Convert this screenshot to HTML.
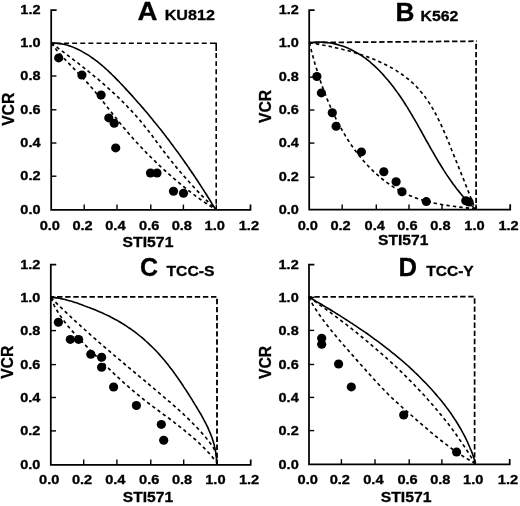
<!DOCTYPE html>
<html><head><meta charset="utf-8"><title>Figure</title>
<style>
html,body{margin:0;padding:0;background:#fff;}
svg{display:block}
text{font-family:"Liberation Sans", sans-serif;font-weight:bold;fill:#000;stroke:#000;stroke-width:0.3}
.ax{stroke:#000;stroke-width:1.75;fill:none;stroke-linecap:butt;stroke-linejoin:miter}
.tk{stroke:#000;stroke-width:1.4;fill:none}
.sol{stroke:#000;stroke-width:1.6;fill:none}
.box{stroke:#000;stroke-width:1.6;fill:none;stroke-dasharray:4.9 3.2;stroke-linejoin:round}
.dsh{stroke:#000;stroke-width:1.65;fill:none;stroke-dasharray:3.4 3.1}
.pt{fill:#000}
</style></head><body>
<svg width="520" height="506" viewBox="0 0 520 506">
<rect width="520" height="506" fill="#fff"/>
<g>
<path class="ax" d="M56.6,10.0 H51.2 V209.8 H250.5 V204.4"/>
<text transform="translate(40.5,214.0) scale(1.17,1)" font-size="12.4" text-anchor="end">0.0</text>
<text transform="translate(49.8,230.0) scale(1.18,1)" font-size="12.4" text-anchor="middle">0.0</text>
<path class="tk" d="M51.2,176.2 h5.2"/><path class="tk" d="M84.2,209.8 v-5.2"/>
<text transform="translate(40.5,180.0) scale(1.17,1)" font-size="12.4" text-anchor="end">0.2</text>
<text transform="translate(82.6,230.0) scale(1.18,1)" font-size="12.4" text-anchor="middle">0.2</text>
<path class="tk" d="M51.2,143.0 h5.2"/><path class="tk" d="M117.0,209.8 v-5.2"/>
<text transform="translate(40.5,147.0) scale(1.17,1)" font-size="12.4" text-anchor="end">0.4</text>
<text transform="translate(115.4,230.0) scale(1.18,1)" font-size="12.4" text-anchor="middle">0.4</text>
<path class="tk" d="M51.2,109.8 h5.2"/><path class="tk" d="M150.8,209.8 v-5.2"/>
<text transform="translate(40.5,114.0) scale(1.17,1)" font-size="12.4" text-anchor="end">0.6</text>
<text transform="translate(149.2,230.0) scale(1.18,1)" font-size="12.4" text-anchor="middle">0.6</text>
<path class="tk" d="M51.2,76.0 h5.2"/><path class="tk" d="M183.4,209.8 v-5.2"/>
<text transform="translate(40.5,80.0) scale(1.17,1)" font-size="12.4" text-anchor="end">0.8</text>
<text transform="translate(181.8,230.0) scale(1.18,1)" font-size="12.4" text-anchor="middle">0.8</text>
<path class="tk" d="M51.2,43.2 h5.2"/><path class="tk" d="M216.3,209.8 v-5.2"/>
<text transform="translate(40.5,47.0) scale(1.17,1)" font-size="12.4" text-anchor="end">1.0</text>
<text transform="translate(214.7,230.0) scale(1.18,1)" font-size="12.4" text-anchor="middle">1.0</text>
<text transform="translate(40.5,14.0) scale(1.17,1)" font-size="12.4" text-anchor="end">1.2</text>
<text transform="translate(248.9,230.0) scale(1.18,1)" font-size="12.4" text-anchor="middle">1.2</text>
<path class="box" stroke-dashoffset="3.3" d="M51.2,43.2 H210.0"/><path class="box" style="stroke-dasharray:none" d="M210.0,43.2 H216.2 V51.1"/><path class="box" stroke-dashoffset="-2" d="M216.2,51.1 V209.8"/>
<path class="dsh" d="M51.4,43.2 C51.9,43.6 53.5,44.8 54.6,45.5 C55.6,46.3 56.7,47.1 57.8,47.9 C58.8,48.7 59.9,49.4 60.9,50.2 C62.0,51.0 63.0,51.8 64.1,52.6 C65.2,53.4 66.2,54.2 67.3,55.0 C68.3,55.8 69.4,56.6 70.4,57.4 C71.5,58.2 72.6,59.0 73.6,59.8 C74.7,60.6 75.7,61.4 76.8,62.2 C77.8,63.0 78.9,63.8 79.9,64.6 C81.0,65.4 82.0,66.3 83.0,67.1 C84.1,67.9 85.1,68.7 86.2,69.6 C87.2,70.4 88.2,71.2 89.3,72.1 C90.3,72.9 91.3,73.7 92.4,74.6 C93.4,75.4 94.4,76.3 95.4,77.1 C96.5,78.0 97.5,78.8 98.5,79.7 C99.5,80.6 100.5,81.4 101.5,82.3 C102.5,83.1 103.5,84.0 104.5,84.9 C105.5,85.8 106.5,86.6 107.5,87.5 C108.5,88.4 109.5,89.3 110.5,90.2 C111.5,91.1 112.4,92.0 113.4,92.9 C114.4,93.8 115.4,94.7 116.3,95.6 C117.3,96.5 118.2,97.4 119.2,98.3 C120.1,99.3 121.1,100.2 122.0,101.1 C123.0,102.0 123.9,103.0 124.8,103.9 C125.8,104.9 126.7,105.8 127.6,106.8 C128.5,107.7 129.4,108.7 130.3,109.6 C131.2,110.6 132.1,111.6 133.0,112.5 C133.9,113.5 134.8,114.5 135.7,115.5 C136.6,116.5 137.4,117.5 138.3,118.4 C139.2,119.4 140.0,120.4 140.9,121.5 C141.7,122.5 142.5,123.5 143.4,124.5 C144.2,125.5 145.0,126.6 145.9,127.6 C146.7,128.6 147.5,129.7 148.3,130.7 C149.1,131.7 149.9,132.8 150.7,133.8 C151.5,134.9 152.3,136.0 153.1,137.0 C153.8,138.1 154.6,139.1 155.4,140.2 C156.2,141.2 157.0,142.3 157.8,143.4 C158.6,144.4 159.4,145.5 160.2,146.5 C160.9,147.6 161.7,148.6 162.5,149.7 C163.3,150.8 164.1,151.8 164.9,152.8 C165.8,153.9 166.6,154.9 167.4,156.0 C168.2,157.0 169.0,158.1 169.8,159.1 C170.6,160.1 171.5,161.2 172.3,162.2 C173.1,163.2 174.0,164.3 174.8,165.3 C175.6,166.3 176.5,167.3 177.3,168.4 C178.2,169.4 179.0,170.4 179.9,171.4 C180.7,172.4 181.6,173.4 182.5,174.4 C183.3,175.4 184.2,176.4 185.1,177.4 C185.9,178.4 186.8,179.4 187.7,180.4 C188.6,181.4 189.5,182.4 190.4,183.4 C191.3,184.4 192.1,185.3 193.0,186.3 C193.9,187.3 194.8,188.3 195.8,189.2 C196.7,190.2 197.6,191.2 198.5,192.1 C199.4,193.1 200.3,194.0 201.2,195.0 C202.2,195.9 203.1,196.9 204.0,197.8 C204.9,198.8 205.9,199.7 206.8,200.7 C207.7,201.6 208.7,202.5 209.6,203.5 C210.6,204.4 211.5,205.3 212.5,206.2 C213.4,207.2 214.8,208.5 215.3,209.0"/>
<path class="dsh" d="M51.4,43.2 C51.8,43.7 53.0,45.3 53.8,46.4 C54.6,47.4 55.4,48.5 56.2,49.5 C57.0,50.5 57.9,51.5 58.8,52.5 C59.6,53.6 60.5,54.5 61.4,55.5 C62.3,56.5 63.2,57.5 64.1,58.5 C65.0,59.4 65.9,60.4 66.8,61.3 C67.7,62.3 68.6,63.2 69.5,64.2 C70.5,65.1 71.4,66.1 72.3,67.0 C73.3,68.0 74.2,68.9 75.1,69.9 C76.0,70.8 77.0,71.8 77.9,72.7 C78.8,73.7 79.7,74.6 80.7,75.6 C81.6,76.5 82.5,77.5 83.4,78.5 C84.3,79.4 85.2,80.4 86.1,81.4 C87.0,82.4 87.9,83.3 88.7,84.3 C89.6,85.3 90.5,86.3 91.3,87.3 C92.2,88.3 93.1,89.4 93.9,90.4 C94.8,91.4 95.6,92.4 96.4,93.4 C97.3,94.4 98.1,95.5 99.0,96.5 C99.8,97.5 100.6,98.6 101.4,99.6 C102.3,100.6 103.1,101.7 103.9,102.7 C104.7,103.8 105.6,104.8 106.4,105.8 C107.2,106.9 108.0,107.9 108.8,109.0 C109.6,110.0 110.5,111.0 111.3,112.1 C112.1,113.1 112.9,114.2 113.7,115.2 C114.6,116.3 115.4,117.3 116.2,118.3 C117.0,119.4 117.9,120.4 118.7,121.4 C119.5,122.5 120.3,123.5 121.2,124.5 C122.0,125.5 122.9,126.6 123.7,127.6 C124.6,128.6 125.4,129.6 126.3,130.6 C127.1,131.6 128.0,132.6 128.8,133.6 C129.7,134.6 130.6,135.6 131.4,136.6 C132.3,137.6 133.2,138.6 134.1,139.6 C135.0,140.6 135.8,141.5 136.7,142.5 C137.6,143.5 138.5,144.5 139.4,145.4 C140.3,146.4 141.2,147.3 142.2,148.3 C143.1,149.3 144.0,150.2 144.9,151.2 C145.8,152.1 146.7,153.1 147.7,154.0 C148.6,154.9 149.5,155.9 150.5,156.8 C151.4,157.7 152.3,158.7 153.3,159.6 C154.2,160.5 155.2,161.4 156.1,162.3 C157.1,163.3 158.1,164.2 159.0,165.1 C160.0,166.0 161.0,166.9 161.9,167.8 C162.9,168.7 163.9,169.6 164.8,170.5 C165.8,171.3 166.8,172.2 167.8,173.1 C168.8,174.0 169.8,174.9 170.8,175.7 C171.8,176.6 172.8,177.5 173.8,178.4 C174.8,179.2 175.8,180.1 176.8,180.9 C177.8,181.8 178.8,182.7 179.8,183.5 C180.9,184.4 181.9,185.2 182.9,186.0 C183.9,186.9 185.0,187.7 186.0,188.5 C187.0,189.4 188.1,190.2 189.1,191.0 C190.2,191.8 191.2,192.6 192.3,193.4 C193.3,194.3 194.4,195.0 195.4,195.8 C196.5,196.6 197.6,197.4 198.7,198.2 C199.7,199.0 200.8,199.7 201.9,200.5 C203.0,201.2 204.1,202.0 205.2,202.7 C206.3,203.4 207.4,204.2 208.5,204.9 C209.6,205.6 210.8,206.3 211.9,207.0 C213.0,207.7 214.7,208.7 215.3,209.0"/>
<path class="sol" d="M51.4,43.2 C52.1,43.2 54.2,43.1 55.6,43.2 C56.9,43.2 58.3,43.4 59.6,43.6 C61.0,43.7 62.3,44.0 63.6,44.3 C64.9,44.6 66.2,44.9 67.5,45.3 C68.8,45.7 70.1,46.1 71.3,46.6 C72.6,47.1 73.8,47.6 75.0,48.1 C76.3,48.6 77.5,49.2 78.7,49.8 C79.9,50.3 81.1,50.9 82.2,51.6 C83.4,52.2 84.6,52.9 85.7,53.6 C86.8,54.3 88.0,55.0 89.1,55.7 C90.2,56.4 91.3,57.2 92.4,58.0 C93.5,58.7 94.6,59.5 95.7,60.4 C96.8,61.2 97.8,62.0 98.9,62.9 C99.9,63.7 101.0,64.6 102.0,65.4 C103.1,66.3 104.1,67.2 105.1,68.1 C106.1,69.0 107.1,70.0 108.1,70.9 C109.1,71.8 110.1,72.8 111.1,73.7 C112.1,74.7 113.1,75.7 114.1,76.6 C115.0,77.6 116.0,78.6 117.0,79.6 C117.9,80.6 118.9,81.5 119.8,82.5 C120.8,83.5 121.7,84.5 122.7,85.5 C123.6,86.5 124.6,87.6 125.5,88.6 C126.4,89.6 127.4,90.6 128.3,91.6 C129.2,92.6 130.1,93.6 131.1,94.6 C132.0,95.6 132.9,96.6 133.8,97.7 C134.7,98.7 135.6,99.7 136.5,100.7 C137.4,101.7 138.3,102.8 139.2,103.8 C140.1,104.8 141.0,105.8 141.9,106.9 C142.8,107.9 143.7,108.9 144.5,110.0 C145.4,111.0 146.3,112.0 147.2,113.1 C148.0,114.1 148.9,115.2 149.8,116.2 C150.6,117.2 151.5,118.3 152.4,119.3 C153.2,120.4 154.1,121.4 154.9,122.5 C155.8,123.5 156.6,124.6 157.5,125.6 C158.3,126.7 159.1,127.7 160.0,128.8 C160.8,129.8 161.7,130.9 162.5,132.0 C163.3,133.0 164.1,134.1 165.0,135.2 C165.8,136.2 166.6,137.3 167.4,138.4 C168.3,139.4 169.1,140.5 169.9,141.6 C170.7,142.7 171.5,143.7 172.3,144.8 C173.1,145.9 173.9,147.0 174.7,148.1 C175.5,149.2 176.3,150.2 177.1,151.3 C177.9,152.4 178.7,153.5 179.5,154.6 C180.3,155.7 181.0,156.8 181.8,157.9 C182.6,159.0 183.4,160.1 184.2,161.2 C184.9,162.3 185.7,163.4 186.5,164.5 C187.3,165.6 188.0,166.7 188.8,167.8 C189.6,169.0 190.3,170.1 191.1,171.2 C191.8,172.3 192.6,173.4 193.4,174.5 C194.1,175.7 194.9,176.8 195.6,177.9 C196.4,179.1 197.1,180.2 197.9,181.3 C198.6,182.4 199.3,183.6 200.1,184.7 C200.8,185.9 201.6,187.0 202.3,188.1 C203.0,189.3 203.8,190.4 204.5,191.6 C205.2,192.7 206.0,193.9 206.7,195.0 C207.4,196.2 208.1,197.3 208.9,198.5 C209.6,199.7 210.3,200.8 211.0,202.0 C211.7,203.1 212.4,204.3 213.2,205.5 C213.9,206.7 214.9,208.4 215.3,209.0"/>
<ellipse class="pt" cx="58.7" cy="57.9" rx="4.6" ry="4.5"/><ellipse class="pt" cx="81.9" cy="75" rx="4.6" ry="4.5"/><ellipse class="pt" cx="101.1" cy="95" rx="4.6" ry="4.5"/><ellipse class="pt" cx="108.8" cy="117.9" rx="4.6" ry="4.5"/><ellipse class="pt" cx="114.2" cy="123.2" rx="4.6" ry="4.5"/><ellipse class="pt" cx="115.7" cy="147.9" rx="4.6" ry="4.5"/><ellipse class="pt" cx="150.5" cy="173" rx="4.6" ry="4.5"/><ellipse class="pt" cx="157" cy="173" rx="4.6" ry="4.5"/><ellipse class="pt" cx="173.5" cy="191.3" rx="4.6" ry="4.5"/><ellipse class="pt" cx="183.5" cy="193.3" rx="4.6" ry="4.5"/>
<text transform="translate(137.6,20.0) scale(1.075,1)" font-size="25.7" text-anchor="start">A</text>
<text transform="translate(164.7,19.7) scale(1.09,1)" font-size="14.8" text-anchor="start">KU812</text>
<text transform="translate(148.0,246.5) scale(1.08,1)" font-size="14.6" text-anchor="middle">STI571</text>
<text transform="translate(13.7,109.3) rotate(-90) scale(1.045,1.11)" font-size="15" text-anchor="middle">VCR</text>
</g>
<g>
<path class="ax" d="M314.59999999999997,10.0 H309.2 V209.6 H510.2 V204.2"/>
<text transform="translate(298.9,214.0) scale(1.17,1)" font-size="12.4" text-anchor="end">0.0</text>
<text transform="translate(307.8,230.0) scale(1.18,1)" font-size="12.4" text-anchor="middle">0.0</text>
<path class="tk" d="M309.2,177.2 h5.2"/><path class="tk" d="M342.2,209.6 v-5.2"/>
<text transform="translate(298.9,181.0) scale(1.17,1)" font-size="12.4" text-anchor="end">0.2</text>
<text transform="translate(340.6,230.0) scale(1.18,1)" font-size="12.4" text-anchor="middle">0.2</text>
<path class="tk" d="M309.2,143.1 h5.2"/><path class="tk" d="M376.3,209.6 v-5.2"/>
<text transform="translate(298.9,147.0) scale(1.17,1)" font-size="12.4" text-anchor="end">0.4</text>
<text transform="translate(374.7,230.0) scale(1.18,1)" font-size="12.4" text-anchor="middle">0.4</text>
<path class="tk" d="M309.2,110.0 h5.2"/><path class="tk" d="M409.0,209.6 v-5.2"/>
<text transform="translate(298.9,114.0) scale(1.17,1)" font-size="12.4" text-anchor="end">0.6</text>
<text transform="translate(407.4,230.0) scale(1.18,1)" font-size="12.4" text-anchor="middle">0.6</text>
<path class="tk" d="M309.2,77.2 h5.2"/><path class="tk" d="M442.0,209.6 v-5.2"/>
<text transform="translate(298.9,81.0) scale(1.17,1)" font-size="12.4" text-anchor="end">0.8</text>
<text transform="translate(440.4,230.0) scale(1.18,1)" font-size="12.4" text-anchor="middle">0.8</text>
<path class="tk" d="M309.2,42.7 h5.2"/><path class="tk" d="M476.1,209.6 v-5.2"/>
<text transform="translate(298.9,47.0) scale(1.17,1)" font-size="12.4" text-anchor="end">1.0</text>
<text transform="translate(474.5,230.0) scale(1.18,1)" font-size="12.4" text-anchor="middle">1.0</text>
<text transform="translate(298.9,14.0) scale(1.17,1)" font-size="12.4" text-anchor="end">1.2</text>
<text transform="translate(508.6,230.0) scale(1.18,1)" font-size="12.4" text-anchor="middle">1.2</text>
<path class="box" style="stroke-width:1.75;stroke-dasharray:5.4 2.7" stroke-dashoffset="2.95" d="M309.2,42.6 L477.0,41.2"/><path class="box" style="stroke-width:1.75;stroke-dasharray:5.4 2.7" d="M476.1,43.8 V209.6"/>
<path class="dsh" d="M309.4,42.7 C310.1,42.8 312.1,43.2 313.5,43.4 C314.9,43.6 316.3,43.9 317.7,44.1 C319.1,44.4 320.4,44.6 321.8,44.9 C323.2,45.1 324.6,45.4 326.1,45.7 C327.5,46.0 328.9,46.2 330.3,46.5 C331.7,46.8 333.1,47.1 334.5,47.5 C335.9,47.8 337.4,48.1 338.8,48.4 C340.2,48.8 341.6,49.1 343.0,49.5 C344.4,49.8 345.9,50.2 347.3,50.5 C348.7,50.9 350.1,51.3 351.5,51.7 C352.9,52.1 354.3,52.5 355.7,52.9 C357.1,53.4 358.5,53.8 359.9,54.2 C361.3,54.7 362.7,55.2 364.0,55.6 C365.4,56.1 366.8,56.6 368.2,57.1 C369.5,57.6 370.9,58.1 372.2,58.7 C373.6,59.2 374.9,59.7 376.3,60.3 C377.6,60.9 378.9,61.5 380.2,62.1 C381.5,62.7 382.8,63.3 384.1,63.9 C385.4,64.5 386.7,65.2 387.9,65.8 C389.2,66.5 390.5,67.2 391.7,67.9 C392.9,68.6 394.2,69.3 395.4,70.0 C396.6,70.8 397.8,71.5 398.9,72.3 C400.1,73.1 401.3,73.9 402.4,74.7 C403.6,75.5 404.7,76.3 405.8,77.2 C406.9,78.1 408.0,78.9 409.1,79.8 C410.1,80.7 411.2,81.6 412.2,82.6 C413.3,83.5 414.3,84.5 415.3,85.5 C416.3,86.5 417.2,87.5 418.2,88.5 C419.1,89.5 420.0,90.6 420.9,91.7 C421.9,92.8 422.7,93.9 423.6,95.0 C424.5,96.1 425.3,97.2 426.1,98.4 C426.9,99.5 427.7,100.7 428.5,101.9 C429.3,103.1 430.1,104.3 430.8,105.5 C431.6,106.8 432.3,108.0 433.1,109.2 C433.8,110.5 434.5,111.8 435.2,113.0 C435.9,114.3 436.5,115.6 437.2,116.9 C437.9,118.2 438.5,119.5 439.2,120.8 C439.8,122.1 440.4,123.5 441.1,124.8 C441.7,126.1 442.3,127.5 442.9,128.8 C443.5,130.2 444.1,131.5 444.7,132.9 C445.3,134.2 445.8,135.6 446.4,136.9 C447.0,138.3 447.5,139.6 448.1,141.0 C448.7,142.4 449.2,143.7 449.8,145.1 C450.3,146.4 450.9,147.8 451.4,149.2 C451.9,150.5 452.5,151.9 453.0,153.2 C453.6,154.5 454.1,155.9 454.6,157.2 C455.2,158.6 455.7,159.9 456.2,161.2 C456.8,162.5 457.3,163.9 457.8,165.2 C458.4,166.5 458.9,167.8 459.4,169.1 C459.9,170.4 460.5,171.8 461.0,173.1 C461.5,174.4 462.1,175.7 462.6,177.0 C463.1,178.3 463.6,179.6 464.2,180.9 C464.7,182.3 465.2,183.6 465.7,184.9 C466.2,186.2 466.8,187.5 467.3,188.8 C467.8,190.2 468.3,191.5 468.9,192.8 C469.4,194.1 469.9,195.4 470.4,196.8 C470.9,198.1 471.5,199.4 472.0,200.8 C472.5,202.1 473.0,203.5 473.5,204.8 C474.1,206.2 474.8,208.2 475.1,208.9"/>
<path class="dsh" d="M309.4,42.7 C309.6,43.4 310.1,45.4 310.4,46.8 C310.7,48.1 311.1,49.5 311.4,50.8 C311.8,52.2 312.2,53.6 312.5,54.9 C312.9,56.3 313.3,57.7 313.7,59.1 C314.0,60.4 314.4,61.8 314.8,63.2 C315.2,64.6 315.6,66.0 316.1,67.3 C316.5,68.7 316.9,70.1 317.3,71.5 C317.8,72.9 318.2,74.3 318.6,75.7 C319.1,77.0 319.6,78.4 320.0,79.8 C320.5,81.2 321.0,82.6 321.4,83.9 C321.9,85.3 322.4,86.7 322.9,88.1 C323.4,89.5 323.9,90.8 324.5,92.2 C325.0,93.6 325.5,95.0 326.0,96.3 C326.6,97.7 327.1,99.1 327.7,100.4 C328.3,101.8 328.8,103.1 329.4,104.5 C330.0,105.8 330.6,107.2 331.2,108.5 C331.8,109.9 332.4,111.2 333.0,112.5 C333.6,113.9 334.3,115.2 334.9,116.5 C335.5,117.8 336.2,119.2 336.9,120.5 C337.5,121.8 338.2,123.1 338.9,124.4 C339.6,125.7 340.3,127.0 341.0,128.2 C341.7,129.5 342.4,130.8 343.2,132.1 C343.9,133.3 344.6,134.6 345.4,135.8 C346.1,137.1 346.9,138.3 347.7,139.5 C348.5,140.7 349.3,142.0 350.1,143.2 C350.9,144.4 351.7,145.6 352.5,146.8 C353.4,147.9 354.2,149.1 355.1,150.3 C355.9,151.4 356.8,152.6 357.7,153.7 C358.6,154.9 359.5,156.0 360.4,157.1 C361.3,158.2 362.2,159.3 363.2,160.4 C364.1,161.5 365.1,162.6 366.0,163.7 C367.0,164.7 368.0,165.8 369.0,166.8 C370.0,167.8 371.0,168.9 372.0,169.9 C373.0,170.9 374.1,171.9 375.1,172.8 C376.2,173.8 377.2,174.8 378.3,175.7 C379.4,176.6 380.5,177.6 381.6,178.5 C382.7,179.4 383.8,180.3 385.0,181.1 C386.1,182.0 387.3,182.9 388.5,183.7 C389.6,184.5 390.8,185.3 392.0,186.1 C393.2,186.9 394.4,187.7 395.7,188.4 C396.9,189.2 398.2,189.9 399.4,190.6 C400.7,191.3 402.0,191.9 403.3,192.6 C404.5,193.2 405.8,193.8 407.2,194.4 C408.5,195.0 409.8,195.6 411.1,196.1 C412.5,196.7 413.8,197.2 415.2,197.7 C416.6,198.2 417.9,198.7 419.3,199.1 C420.7,199.6 422.1,200.0 423.5,200.4 C424.9,200.8 426.3,201.2 427.7,201.5 C429.1,201.9 430.6,202.2 432.0,202.6 C433.4,202.9 434.8,203.2 436.3,203.5 C437.7,203.8 439.1,204.1 440.6,204.3 C442.0,204.6 443.5,204.8 444.9,205.1 C446.4,205.3 447.8,205.5 449.3,205.7 C450.7,205.9 452.2,206.1 453.6,206.3 C455.1,206.5 456.5,206.7 458.0,206.9 C459.4,207.1 460.9,207.2 462.3,207.4 C463.7,207.6 465.2,207.8 466.6,207.9 C468.0,208.1 469.4,208.2 470.9,208.4 C472.3,208.6 474.4,208.8 475.1,208.9"/>
<path class="sol" d="M309.4,42.6 C310.1,42.5 312.2,42.3 313.6,42.2 C315.0,42.1 316.4,42.0 317.8,42.0 C319.2,42.0 320.6,42.1 322.0,42.1 C323.4,42.2 324.9,42.3 326.3,42.5 C327.6,42.6 329.0,42.8 330.4,43.0 C331.8,43.3 333.2,43.5 334.5,43.9 C335.9,44.2 337.3,44.5 338.6,44.9 C340.0,45.3 341.3,45.7 342.6,46.1 C343.9,46.6 345.2,47.1 346.5,47.6 C347.8,48.1 349.0,48.7 350.3,49.3 C351.5,49.9 352.8,50.5 354.0,51.1 C355.2,51.8 356.4,52.5 357.6,53.2 C358.8,53.9 359.9,54.6 361.1,55.4 C362.2,56.1 363.4,56.9 364.5,57.7 C365.6,58.5 366.7,59.4 367.8,60.2 C368.9,61.1 370.0,62.0 371.0,62.9 C372.1,63.8 373.1,64.7 374.2,65.7 C375.2,66.6 376.2,67.6 377.2,68.5 C378.2,69.5 379.2,70.5 380.2,71.5 C381.1,72.5 382.1,73.5 383.1,74.6 C384.0,75.6 384.9,76.7 385.8,77.7 C386.8,78.8 387.7,79.9 388.6,80.9 C389.5,82.0 390.3,83.1 391.2,84.2 C392.1,85.3 392.9,86.4 393.8,87.5 C394.6,88.6 395.4,89.8 396.3,90.9 C397.1,92.0 397.9,93.2 398.7,94.3 C399.5,95.5 400.3,96.6 401.1,97.8 C401.8,98.9 402.6,100.1 403.4,101.2 C404.1,102.4 404.9,103.6 405.6,104.8 C406.4,105.9 407.1,107.1 407.9,108.3 C408.6,109.5 409.3,110.7 410.0,111.9 C410.7,113.1 411.5,114.3 412.2,115.5 C412.9,116.7 413.6,117.9 414.3,119.1 C415.0,120.3 415.7,121.5 416.4,122.7 C417.1,123.9 417.8,125.1 418.4,126.4 C419.1,127.6 419.8,128.8 420.5,130.0 C421.2,131.2 421.9,132.5 422.5,133.7 C423.2,134.9 423.9,136.1 424.6,137.3 C425.3,138.6 425.9,139.8 426.6,141.0 C427.3,142.2 428.0,143.4 428.7,144.7 C429.4,145.9 430.0,147.1 430.7,148.3 C431.4,149.5 432.1,150.7 432.8,151.9 C433.5,153.2 434.2,154.4 434.9,155.6 C435.6,156.8 436.3,158.0 437.0,159.2 C437.7,160.4 438.4,161.6 439.1,162.8 C439.9,164.0 440.6,165.1 441.3,166.3 C442.1,167.5 442.8,168.7 443.5,169.9 C444.3,171.0 445.0,172.2 445.8,173.4 C446.6,174.5 447.3,175.7 448.1,176.8 C448.9,178.0 449.7,179.1 450.5,180.3 C451.3,181.4 452.1,182.5 452.9,183.7 C453.7,184.8 454.6,185.9 455.4,187.0 C456.3,188.1 457.1,189.2 458.0,190.3 C458.8,191.4 459.7,192.5 460.6,193.5 C461.5,194.6 462.4,195.7 463.3,196.7 C464.3,197.8 465.2,198.8 466.1,199.9 C467.1,200.9 468.0,201.9 469.0,203.0 C470.0,204.0 471.0,205.0 472.0,206.0 C473.0,207.0 474.6,208.4 475.1,208.9"/>
<ellipse class="pt" cx="316.9" cy="76.5" rx="4.6" ry="4.5"/><ellipse class="pt" cx="321.4" cy="92.9" rx="4.6" ry="4.5"/><ellipse class="pt" cx="332.3" cy="112.8" rx="4.6" ry="4.5"/><ellipse class="pt" cx="336.1" cy="126.2" rx="4.6" ry="4.5"/><ellipse class="pt" cx="361.4" cy="151.9" rx="4.6" ry="4.5"/><ellipse class="pt" cx="383.8" cy="171.7" rx="4.6" ry="4.5"/><ellipse class="pt" cx="396.1" cy="181.7" rx="4.6" ry="4.5"/><ellipse class="pt" cx="402" cy="191.8" rx="4.6" ry="4.5"/><ellipse class="pt" cx="426.3" cy="201.6" rx="4.6" ry="4.5"/><ellipse class="pt" cx="465.8" cy="200.8" rx="4.6" ry="4.5"/><ellipse class="pt" cx="469" cy="202" rx="4.6" ry="4.5"/>
<text transform="translate(395.5,20.6) scale(1.035,1)" font-size="25.4" text-anchor="start">B</text>
<text transform="translate(420.6,20.6) scale(1.07,1)" font-size="14.8" text-anchor="start">K562</text>
<text transform="translate(403.2,245.3) scale(1.07,1)" font-size="14.6" text-anchor="middle">STI571</text>
<text transform="translate(271.2,106.4) rotate(-90) scale(1.045,1.08)" font-size="15" text-anchor="middle">VCR</text>
</g>
<g>
<path class="ax" d="M56.199999999999996,264.5 H50.8 V464.8 H250.7 V459.40000000000003"/>
<text transform="translate(40.4,469.0) scale(1.17,1)" font-size="12.4" text-anchor="end">0.0</text>
<text transform="translate(49.2,484.0) scale(1.18,1)" font-size="12.4" text-anchor="middle">0.0</text>
<path class="tk" d="M50.8,430.9 h5.2"/><path class="tk" d="M83.7,464.8 v-5.2"/>
<text transform="translate(40.4,435.0) scale(1.17,1)" font-size="12.4" text-anchor="end">0.2</text>
<text transform="translate(82.1,484.0) scale(1.18,1)" font-size="12.4" text-anchor="middle">0.2</text>
<path class="tk" d="M50.8,397.5 h5.2"/><path class="tk" d="M116.9,464.8 v-5.2"/>
<text transform="translate(40.4,402.0) scale(1.17,1)" font-size="12.4" text-anchor="end">0.4</text>
<text transform="translate(115.3,484.0) scale(1.18,1)" font-size="12.4" text-anchor="middle">0.4</text>
<path class="tk" d="M50.8,364.6 h5.2"/><path class="tk" d="M150.8,464.8 v-5.2"/>
<text transform="translate(40.4,369.0) scale(1.17,1)" font-size="12.4" text-anchor="end">0.6</text>
<text transform="translate(149.2,484.0) scale(1.18,1)" font-size="12.4" text-anchor="middle">0.6</text>
<path class="tk" d="M50.8,330.6 h5.2"/><path class="tk" d="M183.7,464.8 v-5.2"/>
<text transform="translate(40.4,335.0) scale(1.17,1)" font-size="12.4" text-anchor="end">0.8</text>
<text transform="translate(182.1,484.0) scale(1.18,1)" font-size="12.4" text-anchor="middle">0.8</text>
<path class="tk" d="M50.8,297.4 h5.2"/><path class="tk" d="M217.0,464.8 v-5.2"/>
<text transform="translate(40.4,302.0) scale(1.17,1)" font-size="12.4" text-anchor="end">1.0</text>
<text transform="translate(215.4,484.0) scale(1.18,1)" font-size="12.4" text-anchor="middle">1.0</text>
<text transform="translate(40.4,269.0) scale(1.17,1)" font-size="12.4" text-anchor="end">1.2</text>
<text transform="translate(249.1,484.0) scale(1.18,1)" font-size="12.4" text-anchor="middle">1.2</text>
<path class="box" style="stroke-width:1.85;stroke-dasharray:5.4 2.7" stroke-dashoffset="1.8" d="M50.8,296.9 L216.4,296.9"/><path class="box" style="stroke-width:1.85;stroke-dasharray:5.4 2.7" d="M217.0,298.8 V464.8"/>
<path class="dsh" d="M50.9,297.6 C51.4,298.1 52.8,299.5 53.7,300.4 C54.7,301.4 55.6,302.3 56.6,303.3 C57.5,304.2 58.5,305.1 59.4,306.1 C60.4,307.0 61.3,307.9 62.3,308.8 C63.2,309.8 64.2,310.7 65.2,311.6 C66.1,312.5 67.1,313.4 68.1,314.4 C69.0,315.3 70.0,316.2 71.0,317.1 C71.9,318.0 72.9,318.9 73.9,319.8 C74.9,320.7 75.8,321.6 76.8,322.5 C77.8,323.4 78.8,324.3 79.8,325.2 C80.8,326.1 81.7,327.0 82.7,327.9 C83.7,328.7 84.7,329.6 85.7,330.5 C86.7,331.4 87.7,332.3 88.7,333.2 C89.6,334.0 90.6,334.9 91.6,335.8 C92.6,336.7 93.6,337.6 94.6,338.4 C95.6,339.3 96.6,340.2 97.6,341.0 C98.6,341.9 99.6,342.8 100.6,343.7 C101.6,344.5 102.6,345.4 103.7,346.3 C104.7,347.1 105.7,348.0 106.7,348.8 C107.7,349.7 108.7,350.6 109.7,351.4 C110.7,352.3 111.7,353.2 112.7,354.0 C113.7,354.9 114.8,355.7 115.8,356.6 C116.8,357.5 117.8,358.3 118.8,359.2 C119.8,360.0 120.9,360.9 121.9,361.7 C122.9,362.6 123.9,363.4 124.9,364.3 C125.9,365.2 127.0,366.0 128.0,366.9 C129.0,367.7 130.0,368.6 131.0,369.4 C132.1,370.3 133.1,371.1 134.1,372.0 C135.1,372.8 136.2,373.7 137.2,374.6 C138.2,375.4 139.2,376.3 140.2,377.1 C141.3,378.0 142.3,378.8 143.3,379.7 C144.3,380.5 145.4,381.4 146.4,382.3 C147.4,383.1 148.4,384.0 149.5,384.8 C150.5,385.7 151.5,386.6 152.5,387.4 C153.6,388.3 154.6,389.1 155.6,390.0 C156.6,390.9 157.6,391.7 158.7,392.6 C159.7,393.4 160.7,394.3 161.7,395.2 C162.8,396.0 163.8,396.9 164.8,397.8 C165.8,398.7 166.8,399.5 167.9,400.4 C168.9,401.3 169.9,402.1 170.9,403.0 C171.9,403.9 172.9,404.8 173.9,405.7 C174.9,406.6 176.0,407.4 177.0,408.3 C178.0,409.2 178.9,410.1 179.9,411.0 C180.9,411.9 181.9,412.8 182.9,413.7 C183.9,414.6 184.8,415.5 185.8,416.5 C186.8,417.4 187.7,418.3 188.7,419.2 C189.7,420.2 190.6,421.1 191.5,422.0 C192.5,423.0 193.4,423.9 194.3,424.8 C195.3,425.8 196.2,426.8 197.1,427.7 C198.0,428.7 198.9,429.6 199.8,430.6 C200.7,431.6 201.6,432.6 202.4,433.6 C203.3,434.6 204.2,435.5 205.0,436.6 C205.9,437.6 206.7,438.6 207.5,439.6 C208.3,440.6 209.2,441.6 209.9,442.7 C210.7,443.7 211.5,444.8 212.2,445.9 C212.9,446.9 213.6,448.1 214.2,449.2 C214.7,450.4 215.3,451.6 215.6,452.8 C216.0,454.1 216.4,455.3 216.5,456.7 C216.7,458.1 216.6,460.3 216.6,461.0"/>
<path class="dsh" d="M50.9,298.0 C51.2,298.6 51.9,300.5 52.4,301.7 C53.0,302.9 53.6,304.1 54.1,305.3 C54.7,306.5 55.4,307.7 56.0,308.8 C56.7,310.0 57.3,311.1 58.0,312.2 C58.7,313.3 59.4,314.4 60.1,315.5 C60.9,316.6 61.6,317.7 62.4,318.8 C63.2,319.8 63.9,320.9 64.7,321.9 C65.5,323.0 66.4,324.0 67.2,325.1 C68.0,326.1 68.9,327.1 69.7,328.1 C70.6,329.1 71.4,330.1 72.3,331.1 C73.2,332.1 74.1,333.1 75.0,334.1 C75.8,335.1 76.7,336.1 77.6,337.1 C78.5,338.0 79.5,339.0 80.4,340.0 C81.3,340.9 82.2,341.9 83.1,342.9 C84.0,343.8 85.0,344.8 85.9,345.7 C86.8,346.7 87.8,347.6 88.7,348.6 C89.6,349.5 90.6,350.5 91.5,351.4 C92.4,352.4 93.4,353.3 94.3,354.3 C95.3,355.2 96.2,356.2 97.1,357.1 C98.1,358.0 99.0,359.0 100.0,359.9 C100.9,360.8 101.9,361.8 102.8,362.7 C103.8,363.6 104.7,364.6 105.6,365.5 C106.6,366.4 107.5,367.3 108.5,368.3 C109.4,369.2 110.4,370.1 111.4,371.0 C112.3,371.9 113.3,372.9 114.2,373.8 C115.2,374.7 116.2,375.6 117.1,376.5 C118.1,377.4 119.1,378.3 120.0,379.2 C121.0,380.1 122.0,381.0 123.0,381.9 C123.9,382.8 124.9,383.6 125.9,384.5 C126.9,385.4 127.9,386.3 128.9,387.1 C129.9,388.0 130.9,388.9 131.9,389.7 C132.9,390.6 133.9,391.5 134.9,392.3 C136.0,393.2 137.0,394.0 138.0,394.8 C139.0,395.7 140.1,396.5 141.1,397.3 C142.1,398.2 143.2,399.0 144.2,399.8 C145.3,400.6 146.3,401.5 147.4,402.3 C148.4,403.1 149.5,403.9 150.5,404.7 C151.6,405.5 152.7,406.3 153.7,407.1 C154.8,407.9 155.9,408.7 156.9,409.5 C158.0,410.3 159.1,411.1 160.1,411.9 C161.2,412.7 162.3,413.5 163.4,414.3 C164.4,415.1 165.5,415.8 166.6,416.6 C167.6,417.4 168.7,418.2 169.8,419.0 C170.8,419.8 171.9,420.6 173.0,421.4 C174.0,422.2 175.1,423.0 176.1,423.9 C177.2,424.7 178.2,425.5 179.3,426.3 C180.3,427.1 181.4,427.9 182.4,428.8 C183.5,429.6 184.5,430.4 185.5,431.3 C186.5,432.1 187.6,432.9 188.6,433.8 C189.6,434.6 190.6,435.5 191.6,436.3 C192.6,437.2 193.6,438.1 194.6,439.0 C195.6,439.8 196.6,440.7 197.5,441.6 C198.5,442.5 199.5,443.4 200.4,444.3 C201.4,445.2 202.3,446.2 203.2,447.1 C204.2,448.0 205.1,449.0 206.0,449.9 C206.9,450.9 207.8,451.9 208.7,452.8 C209.6,453.8 210.4,454.8 211.3,455.8 C212.2,456.8 213.0,457.8 213.8,458.9 C214.7,459.9 215.9,461.5 216.3,462.0"/>
<path class="sol" d="M50.9,297.3 C51.6,297.4 53.7,297.5 55.1,297.7 C56.5,297.9 57.9,298.1 59.3,298.3 C60.6,298.6 62.0,298.9 63.4,299.2 C64.7,299.5 66.1,299.8 67.4,300.2 C68.8,300.5 70.2,300.9 71.5,301.3 C72.8,301.7 74.2,302.2 75.5,302.6 C76.9,303.0 78.2,303.5 79.5,304.0 C80.9,304.5 82.2,304.9 83.5,305.4 C84.9,305.9 86.2,306.4 87.5,306.9 C88.9,307.4 90.2,308.0 91.5,308.5 C92.8,309.0 94.2,309.5 95.5,310.1 C96.8,310.6 98.1,311.2 99.4,311.8 C100.7,312.3 102.1,312.9 103.4,313.5 C104.7,314.1 105.9,314.7 107.2,315.3 C108.5,315.9 109.8,316.5 111.1,317.2 C112.3,317.8 113.6,318.5 114.8,319.2 C116.1,319.8 117.3,320.5 118.6,321.2 C119.8,321.9 121.0,322.7 122.2,323.4 C123.4,324.1 124.6,324.9 125.8,325.6 C127.0,326.4 128.1,327.2 129.3,328.0 C130.4,328.8 131.6,329.6 132.7,330.4 C133.9,331.3 135.0,332.1 136.1,332.9 C137.2,333.8 138.3,334.7 139.4,335.6 C140.5,336.4 141.6,337.3 142.7,338.2 C143.7,339.1 144.8,340.1 145.8,341.0 C146.9,341.9 147.9,342.9 148.9,343.8 C150.0,344.8 151.0,345.8 152.0,346.8 C153.0,347.8 154.0,348.7 155.0,349.8 C155.9,350.8 156.9,351.8 157.9,352.8 C158.8,353.9 159.8,354.9 160.7,356.0 C161.6,357.0 162.5,358.1 163.5,359.2 C164.4,360.2 165.3,361.3 166.2,362.4 C167.1,363.5 167.9,364.6 168.8,365.7 C169.7,366.8 170.5,368.0 171.4,369.1 C172.2,370.2 173.1,371.4 173.9,372.5 C174.8,373.7 175.6,374.8 176.4,376.0 C177.2,377.1 178.1,378.3 178.9,379.5 C179.7,380.6 180.5,381.8 181.3,383.0 C182.1,384.2 182.9,385.4 183.6,386.6 C184.4,387.7 185.2,388.9 186.0,390.1 C186.7,391.3 187.5,392.5 188.3,393.7 C189.0,394.9 189.8,396.2 190.6,397.4 C191.3,398.6 192.1,399.8 192.8,401.0 C193.6,402.2 194.3,403.4 195.0,404.6 C195.8,405.8 196.5,407.0 197.3,408.3 C198.0,409.5 198.7,410.7 199.4,411.9 C200.1,413.1 200.9,414.3 201.6,415.6 C202.2,416.8 202.9,418.0 203.6,419.3 C204.3,420.5 204.9,421.7 205.6,423.0 C206.2,424.2 206.8,425.5 207.4,426.7 C208.0,428.0 208.6,429.3 209.1,430.6 C209.7,431.8 210.2,433.1 210.7,434.4 C211.3,435.7 211.7,437.0 212.2,438.3 C212.6,439.7 213.1,441.0 213.5,442.3 C213.9,443.7 214.2,445.0 214.5,446.4 C214.9,447.8 215.2,449.1 215.4,450.5 C215.7,451.9 215.9,453.3 216.1,454.8 C216.3,456.2 216.4,457.6 216.5,459.1 C216.6,460.5 216.7,462.8 216.7,463.5"/>
<ellipse class="pt" cx="58.4" cy="322.2" rx="4.6" ry="4.5"/><ellipse class="pt" cx="70.3" cy="339.4" rx="4.6" ry="4.5"/><ellipse class="pt" cx="78.6" cy="339.4" rx="4.6" ry="4.5"/><ellipse class="pt" cx="90.8" cy="354.2" rx="4.6" ry="4.5"/><ellipse class="pt" cx="101.6" cy="357.2" rx="4.6" ry="4.5"/><ellipse class="pt" cx="101.6" cy="367.2" rx="4.6" ry="4.5"/><ellipse class="pt" cx="113.6" cy="387" rx="4.6" ry="4.5"/><ellipse class="pt" cx="136.4" cy="405.5" rx="4.6" ry="4.5"/><ellipse class="pt" cx="161.3" cy="424.4" rx="4.6" ry="4.5"/><ellipse class="pt" cx="163.7" cy="440.2" rx="4.6" ry="4.5"/>
<text transform="translate(139.9,275.6) scale(0.96,1)" font-size="26" text-anchor="start">C</text>
<text transform="translate(166.5,275.7) scale(1.063,1)" font-size="14.8" text-anchor="start">TCC-S</text>
<text transform="translate(148.0,501.8) scale(1.07,1)" font-size="14.6" text-anchor="middle">STI571</text>
<text transform="translate(12.9,362.3) rotate(-90) scale(1.045,1.06)" font-size="15" text-anchor="middle">VCR</text>
</g>
<g>
<path class="ax" d="M314.4,264.6 H309.0 V464.4 H509.7 V459.0"/>
<text transform="translate(298.7,469.0) scale(1.17,1)" font-size="12.4" text-anchor="end">0.0</text>
<text transform="translate(307.7,484.0) scale(1.18,1)" font-size="12.4" text-anchor="middle">0.0</text>
<path class="tk" d="M309.0,430.6 h5.2"/><path class="tk" d="M341.4,464.4 v-5.2"/>
<text transform="translate(298.7,435.0) scale(1.17,1)" font-size="12.4" text-anchor="end">0.2</text>
<text transform="translate(339.8,484.0) scale(1.18,1)" font-size="12.4" text-anchor="middle">0.2</text>
<path class="tk" d="M309.0,397.4 h5.2"/><path class="tk" d="M375.0,464.4 v-5.2"/>
<text transform="translate(298.7,402.0) scale(1.17,1)" font-size="12.4" text-anchor="end">0.4</text>
<text transform="translate(373.4,484.0) scale(1.18,1)" font-size="12.4" text-anchor="middle">0.4</text>
<path class="tk" d="M309.0,364.5 h5.2"/><path class="tk" d="M409.2,464.4 v-5.2"/>
<text transform="translate(298.7,369.0) scale(1.17,1)" font-size="12.4" text-anchor="end">0.6</text>
<text transform="translate(407.6,484.0) scale(1.18,1)" font-size="12.4" text-anchor="middle">0.6</text>
<path class="tk" d="M309.0,330.4 h5.2"/><path class="tk" d="M441.9,464.4 v-5.2"/>
<text transform="translate(298.7,335.0) scale(1.17,1)" font-size="12.4" text-anchor="end">0.8</text>
<text transform="translate(440.3,484.0) scale(1.18,1)" font-size="12.4" text-anchor="middle">0.8</text>
<path class="tk" d="M309.0,297.4 h5.2"/><path class="tk" d="M474.8,464.4 v-5.2"/>
<text transform="translate(298.7,302.0) scale(1.17,1)" font-size="12.4" text-anchor="end">1.0</text>
<text transform="translate(473.2,484.0) scale(1.18,1)" font-size="12.4" text-anchor="middle">1.0</text>
<text transform="translate(298.7,269.0) scale(1.17,1)" font-size="12.4" text-anchor="end">1.2</text>
<text transform="translate(508.0,484.0) scale(1.18,1)" font-size="12.4" text-anchor="middle">1.2</text>
<path class="box" style="stroke-width:1.7;stroke-dasharray:5.4 2.7" stroke-dashoffset="2.75" d="M309.0,296.9 L474.1,296.7"/><path class="box" style="stroke-width:1.7;stroke-dasharray:5.4 2.7" d="M474.6,298.3 V464.4"/>
<path class="dsh" d="M308.8,297.0 C309.3,297.4 311.0,298.5 312.1,299.3 C313.1,300.1 314.2,300.8 315.3,301.6 C316.4,302.4 317.5,303.1 318.5,303.9 C319.6,304.7 320.7,305.5 321.8,306.2 C322.9,307.0 323.9,307.8 325.0,308.6 C326.1,309.4 327.2,310.2 328.2,311.0 C329.3,311.7 330.4,312.5 331.5,313.3 C332.5,314.1 333.6,314.9 334.7,315.7 C335.7,316.5 336.8,317.3 337.9,318.1 C338.9,318.9 340.0,319.8 341.1,320.6 C342.1,321.4 343.2,322.2 344.2,323.0 C345.3,323.8 346.4,324.6 347.4,325.5 C348.5,326.3 349.5,327.1 350.6,327.9 C351.6,328.8 352.7,329.6 353.7,330.4 C354.8,331.3 355.8,332.1 356.9,332.9 C357.9,333.8 358.9,334.6 360.0,335.5 C361.0,336.3 362.1,337.2 363.1,338.0 C364.1,338.9 365.2,339.7 366.2,340.6 C367.2,341.4 368.2,342.3 369.3,343.2 C370.3,344.0 371.3,344.9 372.3,345.8 C373.4,346.6 374.4,347.5 375.4,348.4 C376.4,349.2 377.4,350.1 378.4,351.0 C379.4,351.9 380.4,352.8 381.5,353.6 C382.5,354.5 383.5,355.4 384.5,356.3 C385.5,357.2 386.5,358.1 387.4,359.0 C388.4,359.9 389.4,360.8 390.4,361.7 C391.4,362.6 392.4,363.5 393.4,364.4 C394.3,365.3 395.3,366.3 396.3,367.2 C397.3,368.1 398.2,369.0 399.2,369.9 C400.2,370.9 401.1,371.8 402.1,372.7 C403.1,373.7 404.0,374.6 405.0,375.5 C405.9,376.5 406.9,377.4 407.8,378.4 C408.8,379.3 409.7,380.3 410.7,381.2 C411.6,382.2 412.5,383.1 413.5,384.1 C414.4,385.0 415.3,386.0 416.3,386.9 C417.2,387.9 418.1,388.9 419.0,389.9 C419.9,390.8 420.9,391.8 421.8,392.8 C422.7,393.8 423.6,394.7 424.5,395.7 C425.4,396.7 426.3,397.7 427.2,398.7 C428.1,399.7 428.9,400.7 429.8,401.7 C430.7,402.7 431.6,403.7 432.5,404.7 C433.3,405.7 434.2,406.7 435.1,407.7 C435.9,408.7 436.8,409.8 437.7,410.8 C438.5,411.8 439.4,412.8 440.2,413.9 C441.1,414.9 441.9,415.9 442.7,417.0 C443.6,418.0 444.4,419.0 445.2,420.1 C446.1,421.1 446.9,422.2 447.7,423.2 C448.5,424.3 449.3,425.4 450.1,426.4 C450.9,427.5 451.7,428.5 452.5,429.6 C453.3,430.7 454.1,431.8 454.9,432.8 C455.7,433.9 456.5,435.0 457.2,436.1 C458.0,437.2 458.8,438.3 459.5,439.4 C460.3,440.4 461.0,441.5 461.8,442.7 C462.5,443.8 463.3,444.9 464.0,446.0 C464.8,447.1 465.5,448.2 466.2,449.3 C466.9,450.4 467.7,451.6 468.4,452.7 C469.1,453.8 469.8,455.0 470.5,456.1 C471.2,457.2 471.9,458.4 472.6,459.5 C473.2,460.7 474.3,462.4 474.6,463.0"/>
<path class="dsh" d="M308.8,297.2 C309.1,297.8 310.0,299.6 310.6,300.8 C311.3,302.0 311.9,303.1 312.6,304.3 C313.3,305.5 314.0,306.6 314.7,307.7 C315.4,308.9 316.1,310.0 316.9,311.1 C317.6,312.2 318.4,313.3 319.1,314.4 C319.9,315.5 320.7,316.6 321.5,317.7 C322.3,318.7 323.1,319.8 323.9,320.9 C324.7,321.9 325.5,323.0 326.3,324.1 C327.1,325.1 328.0,326.2 328.8,327.2 C329.6,328.3 330.4,329.3 331.3,330.4 C332.1,331.4 333.0,332.4 333.8,333.5 C334.7,334.5 335.5,335.6 336.4,336.6 C337.3,337.6 338.1,338.6 339.0,339.7 C339.8,340.7 340.7,341.7 341.6,342.7 C342.5,343.7 343.3,344.8 344.2,345.8 C345.1,346.8 346.0,347.8 346.9,348.8 C347.8,349.8 348.6,350.8 349.5,351.8 C350.4,352.8 351.3,353.8 352.2,354.9 C353.1,355.9 354.0,356.9 354.9,357.9 C355.8,358.9 356.6,359.9 357.5,360.9 C358.4,361.9 359.3,362.9 360.2,363.9 C361.1,364.9 362.0,365.9 362.9,366.9 C363.8,367.9 364.7,368.9 365.5,369.9 C366.4,370.9 367.3,371.9 368.2,372.9 C369.1,373.8 370.0,374.8 370.9,375.8 C371.8,376.8 372.7,377.8 373.5,378.8 C374.4,379.8 375.3,380.8 376.2,381.8 C377.1,382.7 378.0,383.7 378.9,384.7 C379.9,385.7 380.8,386.6 381.7,387.6 C382.6,388.6 383.5,389.5 384.4,390.5 C385.4,391.4 386.3,392.4 387.3,393.3 C388.2,394.3 389.1,395.2 390.1,396.1 C391.1,397.1 392.0,398.0 393.0,398.9 C394.0,399.8 395.0,400.7 395.9,401.6 C396.9,402.5 397.9,403.4 398.9,404.3 C399.9,405.2 400.9,406.1 401.9,407.0 C402.9,407.9 403.9,408.8 404.9,409.7 C405.9,410.5 407.0,411.4 408.0,412.3 C409.0,413.2 410.0,414.1 411.0,415.0 C412.0,415.9 413.0,416.8 414.0,417.6 C415.0,418.5 416.0,419.4 417.0,420.3 C418.1,421.2 419.1,422.1 420.1,423.0 C421.1,423.8 422.1,424.7 423.1,425.6 C424.1,426.5 425.2,427.4 426.2,428.2 C427.2,429.1 428.2,430.0 429.2,430.8 C430.3,431.7 431.3,432.6 432.3,433.4 C433.4,434.3 434.4,435.2 435.4,436.0 C436.5,436.9 437.5,437.7 438.6,438.5 C439.6,439.4 440.7,440.2 441.7,441.0 C442.8,441.9 443.8,442.7 444.9,443.5 C445.9,444.3 447.0,445.1 448.1,445.9 C449.2,446.7 450.2,447.5 451.3,448.3 C452.4,449.1 453.5,449.9 454.6,450.6 C455.7,451.4 456.8,452.1 457.9,452.9 C459.0,453.6 460.1,454.4 461.3,455.1 C462.4,455.8 463.5,456.6 464.6,457.3 C465.8,458.0 466.9,458.7 468.1,459.3 C469.2,460.0 470.4,460.7 471.6,461.4 C472.7,462.0 474.5,463.0 475.1,463.3"/>
<path class="sol" d="M308.8,297.0 C309.4,297.3 311.1,298.4 312.3,299.0 C313.5,299.7 314.7,300.4 315.8,301.1 C317.0,301.8 318.2,302.5 319.4,303.2 C320.5,303.9 321.7,304.6 322.9,305.3 C324.0,306.0 325.2,306.7 326.4,307.4 C327.5,308.1 328.7,308.8 329.9,309.5 C331.0,310.2 332.2,310.9 333.4,311.6 C334.5,312.3 335.7,313.0 336.8,313.8 C338.0,314.5 339.1,315.2 340.3,315.9 C341.5,316.7 342.6,317.4 343.8,318.1 C344.9,318.9 346.1,319.6 347.2,320.3 C348.3,321.1 349.5,321.8 350.6,322.6 C351.8,323.3 352.9,324.0 354.0,324.8 C355.2,325.6 356.3,326.3 357.5,327.1 C358.6,327.8 359.7,328.6 360.8,329.4 C362.0,330.1 363.1,330.9 364.2,331.7 C365.3,332.4 366.4,333.2 367.6,334.0 C368.7,334.8 369.8,335.6 370.9,336.4 C372.0,337.2 373.1,338.0 374.2,338.8 C375.3,339.6 376.4,340.4 377.5,341.2 C378.6,342.0 379.7,342.8 380.8,343.6 C381.9,344.4 382.9,345.3 384.0,346.1 C385.1,346.9 386.2,347.7 387.2,348.6 C388.3,349.4 389.4,350.3 390.4,351.1 C391.5,352.0 392.6,352.8 393.6,353.7 C394.7,354.5 395.7,355.4 396.8,356.3 C397.8,357.1 398.8,358.0 399.9,358.9 C400.9,359.8 402.0,360.6 403.0,361.5 C404.0,362.4 405.0,363.3 406.0,364.2 C407.1,365.1 408.1,366.0 409.1,366.9 C410.1,367.8 411.1,368.8 412.1,369.7 C413.1,370.6 414.1,371.5 415.0,372.5 C416.0,373.4 417.0,374.4 418.0,375.3 C419.0,376.3 419.9,377.2 420.9,378.2 C421.8,379.1 422.8,380.1 423.7,381.1 C424.7,382.0 425.6,383.0 426.6,384.0 C427.5,385.0 428.4,386.0 429.4,387.0 C430.3,388.0 431.2,389.0 432.1,390.0 C433.0,391.0 433.9,392.0 434.8,393.1 C435.7,394.1 436.6,395.1 437.5,396.2 C438.4,397.2 439.3,398.3 440.1,399.3 C441.0,400.4 441.9,401.4 442.7,402.5 C443.6,403.6 444.4,404.7 445.2,405.7 C446.1,406.8 446.9,407.9 447.7,409.0 C448.5,410.1 449.3,411.2 450.1,412.3 C450.9,413.4 451.7,414.5 452.4,415.7 C453.2,416.8 454.0,417.9 454.7,419.1 C455.4,420.2 456.2,421.4 456.9,422.5 C457.6,423.7 458.3,424.8 459.0,426.0 C459.7,427.2 460.4,428.3 461.1,429.5 C461.7,430.7 462.4,431.9 463.0,433.1 C463.7,434.3 464.3,435.5 464.9,436.7 C465.5,437.9 466.1,439.1 466.7,440.4 C467.3,441.6 467.9,442.8 468.4,444.1 C469.0,445.3 469.5,446.6 470.0,447.8 C470.6,449.1 471.1,450.4 471.6,451.6 C472.1,452.9 472.5,454.2 473.0,455.5 C473.4,456.8 473.9,458.1 474.3,459.4 C474.7,460.7 475.3,462.6 475.5,463.3"/>
<ellipse class="pt" cx="321.7" cy="338.2" rx="4.6" ry="4.5"/><ellipse class="pt" cx="321.7" cy="344.3" rx="4.6" ry="4.5"/><ellipse class="pt" cx="338.6" cy="364" rx="4.6" ry="4.5"/><ellipse class="pt" cx="351.3" cy="386.9" rx="4.6" ry="4.5"/><ellipse class="pt" cx="403.7" cy="415" rx="4.6" ry="4.5"/><ellipse class="pt" cx="456.6" cy="452.1" rx="4.6" ry="4.5"/>
<text transform="translate(398.5,276.1) scale(1.0,1)" font-size="25.7" text-anchor="start">D</text>
<text transform="translate(426.3,276.1) scale(1.05,1)" font-size="14.8" text-anchor="start">TCC-Y</text>
<text transform="translate(406.1,502.1) scale(1.08,1)" font-size="14.6" text-anchor="middle">STI571</text>
<text transform="translate(271.2,362.5) rotate(-90) scale(1.045,1.08)" font-size="15" text-anchor="middle">VCR</text>
</g>
</svg>
</body></html>
